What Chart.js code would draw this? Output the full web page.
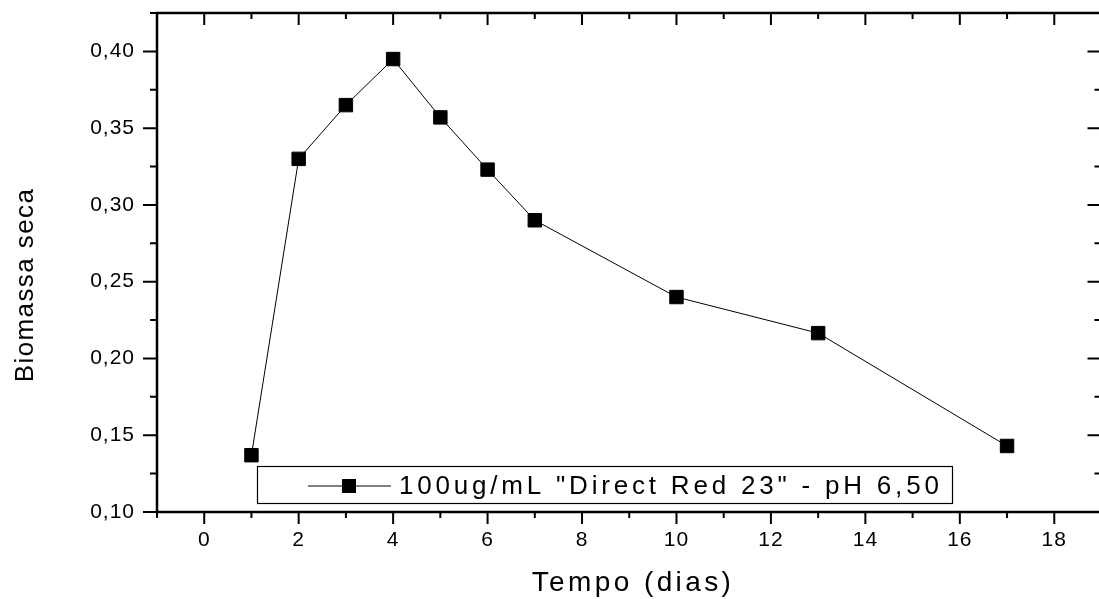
<!DOCTYPE html>
<html>
<head>
<meta charset="utf-8">
<script src="https://cdn.jsdelivr.net/npm/chart.js@4/dist/chart.umd.min.js"></script>
<style>
html, body { margin:0; padding:0; overflow:hidden; background:#fff; }
#wrap { width:1112px; height:599px; position:relative; }
</style>
</head>
<body>
<div id="wrap"><canvas id="c"></canvas></div>
<script>
// ---- data ----
const days = [1, 2, 3, 4, 5, 6, 7, 10, 13, 17];
const biomass = [0.137, 0.330, 0.365, 0.395, 0.357, 0.323, 0.290, 0.240, 0.2165, 0.143];
const xTickValues = [0, 2, 4, 6, 8, 10, 12, 14, 16, 18];
const xMinorValues = [-1, 1, 3, 5, 7, 9, 11, 13, 15, 17, 19];
const yTickValues = [0.10, 0.15, 0.20, 0.25, 0.30, 0.35, 0.40];
const yMinorValues = [0.125, 0.175, 0.225, 0.275, 0.325, 0.375, 0.425];
const seriesLabel = '100ug/mL "Direct Red 23" - pH 6,50';
const xTitle = 'Tempo (dias)';
const yTitle = 'Biomassa seca';

const FONT = 'Arial, "Liberation Sans", sans-serif';

const framePlugin = {
  id: 'frame',
  beforeDraw(chart) {
    chart.ctx.letterSpacing = '1px';
  },
  afterDraw(chart) {
    const ctx = chart.ctx;
    const a = chart.chartArea;
    const xs = chart.scales.x, ys = chart.scales.y;
    ctx.save();
    ctx.letterSpacing = '0px';
    ctx.strokeStyle = '#000';
    ctx.lineWidth = 2.5;
    ctx.strokeRect(a.left, a.top, a.right - a.left, a.bottom - a.top);
    ctx.lineWidth = 2;
    ctx.beginPath();
    const tick = (vals, len) => {
      vals.forEach(v => {
        const px = xs.getPixelForValue(v);
        ctx.moveTo(px, a.bottom); ctx.lineTo(px, a.bottom + len);
        ctx.moveTo(px, a.top); ctx.lineTo(px, a.top + len);
      });
    };
    tick(xTickValues, 12);
    tick(xMinorValues, 6);
    const ytick = (vals, len) => {
      vals.forEach(v => {
        const py = ys.getPixelForValue(v);
        ctx.moveTo(a.left, py); ctx.lineTo(a.left - len, py);
        ctx.moveTo(a.right, py); ctx.lineTo(a.right - len, py);
      });
    };
    ytick(yTickValues, 14);
    ytick(yMinorValues, 7);
    ctx.stroke();

    // axis titles
    ctx.fillStyle = '#000';
    ctx.font = '28px ' + FONT;
    ctx.letterSpacing = '3.4px';
    ctx.textAlign = 'center';
    ctx.textBaseline = 'alphabetic';
    ctx.fillText(xTitle, 633, 591);

    ctx.save();
    ctx.font = '26px ' + FONT;
    ctx.letterSpacing = '1.4px';
    ctx.translate(33, 285);
    ctx.rotate(-Math.PI / 2);
    ctx.fillText(yTitle, 0, 0);
    ctx.restore();

    // legend box
    ctx.lineWidth = 1.2;
    ctx.strokeRect(257.5, 466.5, 695, 37);
    const ly = 486;
    ctx.lineWidth = 1;
    ctx.beginPath();
    ctx.moveTo(308, ly); ctx.lineTo(391, ly);
    ctx.stroke();
    ctx.fillRect(342, ly - 7, 14, 14);
    ctx.letterSpacing = '3.8px';
    ctx.textAlign = 'left';
    ctx.textBaseline = 'middle';
    ctx.font = '26px ' + FONT;
    ctx.fillText(seriesLabel, 399, ly + 1);
    ctx.restore();
  }
};

new Chart(document.getElementById('c'), {
  type: 'scatter',
  data: {
    datasets: [{
      label: seriesLabel,
      data: days.map((d, i) => ({ x: d, y: biomass[i] })),
      showLine: true,
      borderColor: '#000',
      borderWidth: 1,
      backgroundColor: '#000',
      pointStyle: 'rect',
      pointRadius: 9.5,
      pointBorderWidth: 1,
      pointBorderColor: '#000',
      pointBackgroundColor: '#000',
      tension: 0
    }]
  },
  options: {
    responsive: true,
    maintainAspectRatio: false,
    animation: false,
    events: [],
    layout: { padding: { top: 13, right: 0, left: 0, bottom: 0 } },
    plugins: { legend: { display: false }, tooltip: { enabled: false } },
    scales: {
      x: {
        type: 'linear',
        min: -1, max: 19,
        grid: { display: false, drawTicks: false },
        border: { display: false },
        afterBuildTicks: s => { s.ticks = xTickValues.map(v => ({ value: v })); },
        afterFit: s => { s.height = 87; s.paddingLeft = 0; s.paddingRight = 0; },
        ticks: {
          color: '#000',
          font: { family: FONT, size: 21 },
          padding: 16,
          maxRotation: 0,
          autoSkip: false,
          callback: v => String(v)
        }
      },
      y: {
        type: 'linear',
        min: 0.10, max: 0.425,
        grid: { display: false, drawTicks: false },
        border: { display: false },
        afterBuildTicks: s => { s.ticks = yTickValues.map(v => ({ value: v })); },
        afterFit: s => { s.width = 157; s.paddingTop = 0; s.paddingBottom = 0; },
        ticks: {
          color: '#000',
          font: { family: FONT, size: 21 },
          padding: 22,
          autoSkip: false,
          callback: v => v.toFixed(2).replace('.', ',')
        }
      }
    }
  },
  plugins: [framePlugin]
});
</script>
</body>
</html>
